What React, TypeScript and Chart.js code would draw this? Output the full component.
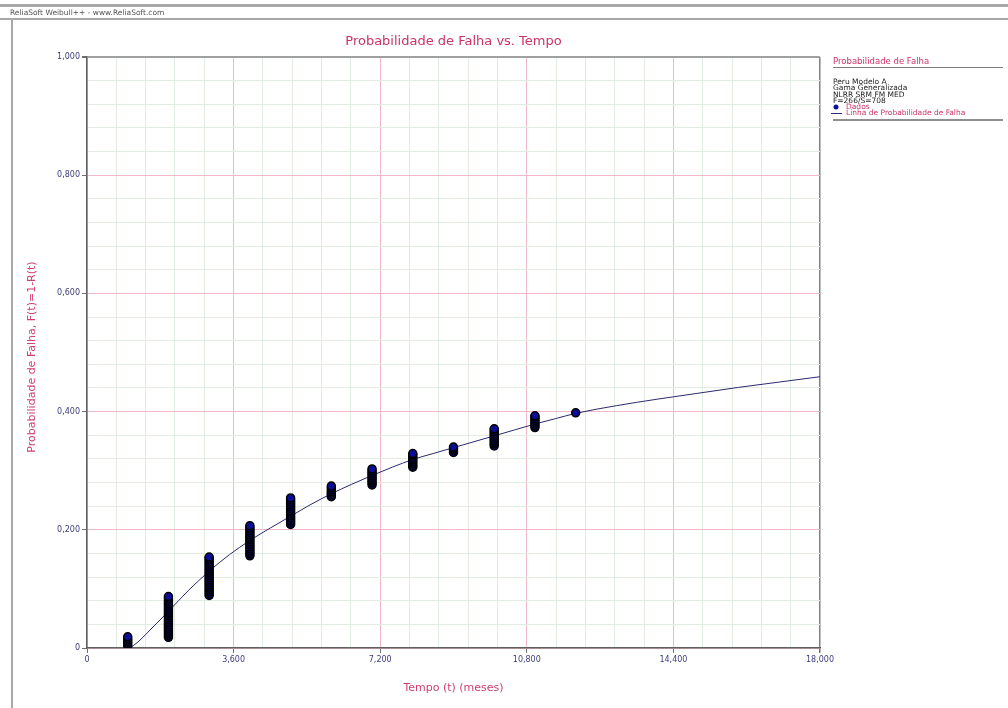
import React, { useEffect, useRef } from "react";
import { Chart, registerables } from "chart.js";

Chart.register(...registerables);

// ---- data ----
const clusterTimes = [1000, 2000, 3000, 4000, 5000, 6000, 7000, 8000, 9000, 10000, 11000, 12000];
const c1000 = [0.004, 0.007, 0.010, 0.013, 0.016, 0.019];
const c2000 = [0.018, 0.021, 0.024, 0.027, 0.030, 0.033, 0.036, 0.039, 0.042, 0.045, 0.048, 0.051, 0.054, 0.057, 0.060, 0.063, 0.066, 0.069, 0.072, 0.075, 0.078, 0.081, 0.084, 0.087];
const c3000 = [0.089, 0.092, 0.095, 0.098, 0.101, 0.104, 0.107, 0.110, 0.113, 0.116, 0.119, 0.122, 0.125, 0.128, 0.131, 0.134, 0.137, 0.140, 0.143, 0.146, 0.149, 0.152, 0.154];
const c4000 = [0.156, 0.159, 0.162, 0.165, 0.168, 0.171, 0.174, 0.177, 0.180, 0.183, 0.186, 0.189, 0.192, 0.195, 0.198, 0.201, 0.204, 0.207];
const c5000 = [0.209, 0.212, 0.215, 0.218, 0.221, 0.224, 0.227, 0.230, 0.233, 0.236, 0.239, 0.242, 0.245, 0.248, 0.251, 0.254];
const c6000 = [0.256, 0.259, 0.262, 0.265, 0.268, 0.271, 0.274];
const c7000 = [0.276, 0.279, 0.282, 0.285, 0.288, 0.291, 0.294, 0.297, 0.300, 0.303];
const c8000 = [0.306, 0.309, 0.312, 0.315, 0.318, 0.321, 0.324, 0.327, 0.329];
const c9000 = [0.331, 0.334, 0.337, 0.340];
const c10000 = [0.342, 0.345, 0.348, 0.351, 0.354, 0.357, 0.360, 0.363, 0.366, 0.369, 0.371];
const c11000 = [0.373, 0.376, 0.379, 0.382, 0.385, 0.388, 0.391, 0.393];
const c12000 = [0.398];
const clusterValues = [c1000, c2000, c3000, c4000, c5000, c6000, c7000, c8000, c9000, c10000, c11000, c12000];

const curveTimes = [1050, 1250, 1500, 2000, 2500, 3000, 3500, 4000, 4500, 5000, 5500, 6000, 6500, 7000, 7500, 8000, 8500, 9000, 9500, 10000, 10500, 11000, 11500, 12000, 13000, 14000, 14400, 15000, 16000, 17000, 18000];
const curveValues = [0.0, 0.01, 0.027, 0.062, 0.098, 0.13, 0.158, 0.182, 0.203, 0.223, 0.243, 0.261, 0.277, 0.292, 0.306, 0.319, 0.329, 0.339, 0.349, 0.359, 0.369, 0.379, 0.388, 0.397, 0.41, 0.421, 0.425, 0.431, 0.441, 0.45, 0.459];

const xMin = 0;
const xMax = 18000;
const xMajor = 3600;
const xMinor = 720;
const yMin = 0;
const yMax = 1;
const yMajor = 0.2;
const yMinor = 0.04;

const titleText = "Probabilidade de Falha vs. Tempo";
const xTitle = "Tempo (t) (meses)";
const yTitle = "Probabilidade de Falha, F(t)=1-R(t)";
const windowText = "ReliaSoft Weibull++ - www.ReliaSoft.com";
const legendHeader = "Probabilidade de Falha";
const legendInfo = ["Peru Modelo A", "Gama Generalizada", "NLRR SRM FM MED", "F=266/S=708"];
const legendData = "Dados";
const legendLine = "Linha de Probabilidade de Falha";

const PINK = "#cc3366";
const TICK = "#3c3c7c";
const FONT = "'DejaVu Sans', Verdana, sans-serif";

const isMult = (v: number, step: number) => Math.abs(v / step - Math.round(v / step)) < 1e-6;

export default function App() {
  const ref = useRef<HTMLCanvasElement | null>(null);

  useEffect(() => {
    if (!ref.current) return;
    const scatter: { x: number; y: number }[] = [];
    clusterTimes.forEach((t, i) => {
      clusterValues[i].forEach((v) => scatter.push({ x: t, y: v }));
    });
    const line = curveTimes.map((t, i) => ({ x: t, y: curveValues[i] }));

    const decor = {
      id: "decor",
      afterDraw(chart: any) {
        const ctx = chart.ctx as CanvasRenderingContext2D;
        const area = chart.chartArea;
        ctx.save();
        // window chrome
        ctx.fillStyle = "#a8a8a8";
        ctx.fillRect(0, 4, 1008, 3);
        ctx.fillRect(0, 18, 1008, 2);
        ctx.fillRect(11, 18, 2, 690);
        ctx.fillStyle = "#555555";
        ctx.font = `7.5px ${FONT}`;
        ctx.textAlign = "left";
        ctx.textBaseline = "middle";
        ctx.fillText(windowText, 10, 13);

        // chart title
        ctx.fillStyle = PINK;
        ctx.font = `13px ${FONT}`;
        ctx.textAlign = "center";
        ctx.textBaseline = "middle";
        ctx.fillText(titleText, (area.left + area.right) / 2, 42);

        // axis titles
        ctx.font = `11px ${FONT}`;
        ctx.fillStyle = "#d04070";
        ctx.fillText(xTitle, (area.left + area.right) / 2, 688);
        ctx.save();
        ctx.translate(32, 357);
        ctx.rotate(-Math.PI / 2);
        ctx.fillText(yTitle, 0, 0);
        ctx.restore();

        // legend panel
        const lx = 833;
        ctx.textAlign = "left";
        ctx.font = `8.5px ${FONT}`;
        ctx.fillStyle = PINK;
        ctx.fillText(legendHeader, lx, 62);
        ctx.fillStyle = "#808080";
        ctx.fillRect(lx, 67, 170, 1);
        ctx.font = `7.5px ${FONT}`;
        ctx.fillStyle = "#222222";
        legendInfo.forEach((s, i) => ctx.fillText(s, lx, 82 + i * 6.3));
        // data marker
        ctx.beginPath();
        ctx.arc(lx + 3, 107, 2.5, 0, Math.PI * 2);
        ctx.fillStyle = "#1010a0";
        ctx.fill();
        ctx.fillStyle = PINK;
        ctx.fillText(legendData, lx + 13, 107.5);
        ctx.strokeStyle = "#2a2a70";
        ctx.lineWidth = 1;
        ctx.beginPath();
        ctx.moveTo(lx - 2, 113.5);
        ctx.lineTo(lx + 9, 113.5);
        ctx.stroke();
        ctx.fillStyle = PINK;
        ctx.fillText(legendLine, lx + 13, 113.5);
        ctx.fillStyle = "#909090";
        ctx.fillRect(lx, 119, 170, 2);
        ctx.restore();
      },
    };

    const chart = new Chart(ref.current, {
      type: "scatter",
      data: {
        datasets: [
          {
            type: "line",
            label: legendLine,
            data: line,
            borderColor: "#2a2a70",
            borderWidth: 1,
            pointRadius: 0,
            fill: false,
            cubicInterpolationMode: "monotone",
            order: 2,
          } as any,
          {
            label: legendData,
            data: scatter,
            backgroundColor: "#0c0c96",
            borderColor: "#000000",
            borderWidth: 1.5,
            pointRadius: 4,
            order: 1,
          },
        ],
      },
      options: {
        responsive: false,
        animation: false,
        events: [],
        layout: { padding: { left: 0, right: 188, top: 57, bottom: 0 } },
        plugins: {
          legend: { display: false },
          title: { display: false },
          tooltip: { enabled: false },
        },
        scales: {
          x: {
            type: "linear",
            min: xMin,
            max: xMax,
            afterFit: (s: any) => {
              s.height = 60;
            },
            ticks: {
              stepSize: xMinor,
              autoSkip: false,
              maxRotation: 0,
              padding: 2,
              color: TICK,
              font: { family: FONT, size: 8 },
              callback: (v: any) => {
                const n = Number(v);
                if (!isMult(n, xMajor)) return "";
                return n === 0 ? "0" : n.toLocaleString("en-US");
              },
            },
            grid: {
              tickLength: 5,
              color: (c: any) => {
                const v = c.tick?.value ?? 0;
                if (Math.abs(v - xMax) < 1e-6) return "#808080";
                return isMult(v, xMajor) ? "#f0b8c8" : "#e3ece3";
              },
              lineWidth: (c: any) => {
                const v = c.tick?.value ?? 0;
                return Math.abs(v - xMax) < 1e-6 ? 1.5 : 1;
              },
              tickColor: (c: any) => {
                const v = c.tick?.value ?? 0;
                return isMult(v, xMajor) ? "#707070" : "rgba(0,0,0,0)";
              },
            },
            border: { color: "#606060", width: 1.5 },
          },
          y: {
            type: "linear",
            min: yMin,
            max: yMax,
            afterFit: (s: any) => {
              s.width = 87;
            },
            ticks: {
              stepSize: yMinor,
              autoSkip: false,
              padding: 2,
              color: TICK,
              font: { family: FONT, size: 8 },
              callback: (v: any) => {
                const n = Number(v);
                if (!isMult(n, yMajor)) return "";
                return n === 0 ? "0" : n.toFixed(3).replace(".", ",");
              },
            },
            grid: {
              tickLength: 5,
              color: (c: any) => {
                const v = c.tick?.value ?? 0;
                if (Math.abs(v - yMax) < 1e-6) return "#a0a0a0";
                return isMult(v, yMajor) ? "#f0b8c8" : "#e3ece3";
              },
              lineWidth: (c: any) => {
                const v = c.tick?.value ?? 0;
                return Math.abs(v - yMax) < 1e-6 ? 2 : 1;
              },
              tickColor: (c: any) => {
                const v = c.tick?.value ?? 0;
                return isMult(v, yMajor) ? "#707070" : "rgba(0,0,0,0)";
              },
            },
            border: { color: "#606060", width: 1.5 },
          },
        },
      },
      plugins: [decor],
    });
    return () => chart.destroy();
  }, []);

  return (
    <div style={{ position: "absolute", left: 0, top: 0, width: 1008, height: 708, background: "#ffffff" }}>
      <canvas ref={ref} width={1008} height={708} style={{ display: "block" }} />
    </div>
  );
}
